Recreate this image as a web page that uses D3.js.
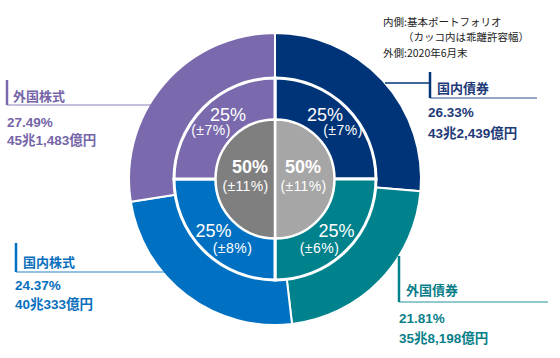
<!DOCTYPE html>
<html><head><meta charset="utf-8">
<script src="https://cdn.jsdelivr.net/npm/d3@7"></script>
<style>html,body{margin:0;padding:0;background:#fff;}svg{display:block;}</style>
</head><body>
<svg id="chart" width="560" height="358"></svg>
<script>
// ---- data ----
const assets = ["国内債券", "外国債券", "国内株式", "外国株式"];
const actualPct = [26.33, 21.81, 24.37, 27.49];
const actualAmount = ["43兆2,439億円", "35兆8,198億円", "40兆333億円", "45兆1,483億円"];
const policyPct = [25, 25, 25, 25];
const policyRange = [7, 6, 8, 7];
const innerGroups = ["債券", "株式"];
const innerPct = [50, 50];
const innerRange = [11, 11];
const noteLines = ["内側:基本ポートフォリオ", "（カッコ内は乖離許容幅）", "外側:2020年6月末"];

// ---- style / layout ----
const colors = ["#003478", "#00828d", "#0071c2", "#7a69ad"];
const textColors = ["#1e3a78", "#0a7f8a", "#0a6fbd", "#7565a8"];
const innerColors = ["#a6a6a6", "#7f7f7f"];
const cx = 275, cy = 179;
const rOuter = 146, rMid = 101, rInner = 59.5;
const sansLat = "'Liberation Sans', Arial, 'Noto Sans CJK JP', sans-serif";
const cjk = "'Noto Sans CJK JP', 'Liberation Sans', sans-serif";

const svg = d3.select("#chart");
const g = svg.append("g").attr("transform", `translate(${cx},${cy})`);

const pie = d3.pie().sort(null).value(d => d);

// outer ring: actual allocation
const outerArc = d3.arc().innerRadius(0).outerRadius(rOuter);
g.selectAll("path.outer").data(pie(actualPct)).join("path")
  .attr("class", "outer").attr("d", outerArc)
  .attr("fill", (d, i) => colors[i]).attr("stroke", "#fff").attr("stroke-width", 2);

// middle ring: policy portfolio
const midArc = d3.arc().innerRadius(0).outerRadius(rMid);
g.selectAll("path.mid").data(pie(policyPct)).join("path")
  .attr("class", "mid").attr("d", midArc)
  .attr("fill", (d, i) => colors[i]).attr("stroke", "#fff").attr("stroke-width", 3);

// inner: bonds / stocks
const innerArc = d3.arc().innerRadius(0).outerRadius(rInner);
g.selectAll("path.inner").data(pie(innerPct)).join("path")
  .attr("class", "inner").attr("d", innerArc)
  .attr("fill", (d, i) => innerColors[i]).attr("stroke", "#fff").attr("stroke-width", 2.5);

// middle ring labels (offsets from centre)
const midLabelPos = [
  {p: [50, -58], r: [68, -44]},
  {p: [61.5, 58], r: [44.5, 74]},
  {p: [-61.5, 58], r: [-42.5, 74]},
  {p: [-47, -58], r: [-64, -44]}
];
policyPct.forEach((v, i) => {
  const L = midLabelPos[i];
  g.append("text").attr("x", L.p[0]).attr("y", L.p[1]).attr("text-anchor", "middle")
    .attr("fill", "#fff").attr("font-family", sansLat).attr("font-size", 18)
    .text(v + "%");
  g.append("text").attr("x", L.r[0]).attr("y", L.r[1]).attr("text-anchor", "middle")
    .attr("fill", "#fff").attr("font-family", sansLat).attr("font-size", 14)
    .attr("letter-spacing", 0.5)
    .text("(±" + policyRange[i] + "%)");
});

// inner labels
const innerLabelPos = [
  {p: [28, -6], r: [28.5, 12]},
  {p: [-25, -6], r: [-29.5, 12]}
];
innerPct.forEach((v, i) => {
  const L = innerLabelPos[i];
  g.append("text").attr("x", L.p[0]).attr("y", L.p[1]).attr("text-anchor", "middle")
    .attr("fill", "#fff").attr("font-family", sansLat).attr("font-size", 18).attr("font-weight", "bold")
    .text(v + "%");
  g.append("text").attr("x", L.r[0]).attr("y", L.r[1]).attr("text-anchor", "middle")
    .attr("fill", "#fff").attr("font-family", sansLat).attr("font-size", 14)
    .attr("letter-spacing", 0.3)
    .text("(±" + innerRange[i] + "%)");
});

// callouts (absolute layout)
const callouts = [
  {bar: [430, 72, 98], under: [430, 537, 98], leader: [[385, 83], [430, 83]], name: [437, 93], pct: [428, 117], amt: [428, 138]},
  {bar: [399, 256, 302], under: [399, 548, 302], leader: null, name: [406, 295], pct: [399, 323], amt: [399, 343]},
  {bar: [16, 243, 272], under: [16, 165, 272], leader: null, name: [23, 267], pct: [15, 290], amt: [15, 309]},
  {bar: [7, 80, 105], under: [7, 152, 105], leader: null, name: [13, 101], pct: [7, 127], amt: [7, 145]}
];
callouts.forEach((c, i) => {
  const col = textColors[i];
  if (c.leader) {
    svg.append("line").attr("x1", c.leader[0][0]).attr("y1", c.leader[0][1])
      .attr("x2", c.leader[1][0]).attr("y2", c.leader[1][1])
      .attr("stroke", colors[i]).attr("stroke-width", 1.5);
  }
  svg.append("line").attr("x1", c.under[0]).attr("y1", c.under[2]).attr("x2", c.under[1]).attr("y2", c.under[2])
    .attr("stroke", colors[i]).attr("stroke-width", 1.2).attr("opacity", 0.85);
  svg.append("line").attr("x1", c.bar[0]).attr("y1", c.bar[1]).attr("x2", c.bar[0]).attr("y2", c.bar[2])
    .attr("stroke", colors[i]).attr("stroke-width", 2.5);
  svg.append("text").attr("x", c.name[0]).attr("y", c.name[1]).attr("fill", col)
    .attr("font-family", cjk).attr("font-weight", "bold").attr("font-size", 13).text(assets[i]);
  svg.append("text").attr("x", c.pct[0]).attr("y", c.pct[1]).attr("fill", col)
    .attr("font-family", sansLat).attr("font-weight", "bold").attr("font-size", 13.5).text(actualPct[i].toFixed(2) + "%");
  svg.append("text").attr("x", c.amt[0]).attr("y", c.amt[1]).attr("fill", col)
    .attr("font-family", sansLat).attr("font-weight", "bold").attr("font-size", 13.5).text(actualAmount[i]);
});

// note
const notePos = [[383, 25.5], [403, 41], [383, 56.5]];
noteLines.forEach((t, i) => {
  svg.append("text").attr("x", notePos[i][0]).attr("y", notePos[i][1]).attr("fill", "#222")
    .attr("font-family", cjk).attr("font-size", 10.5).text(t);
});
</script>
</body></html>
